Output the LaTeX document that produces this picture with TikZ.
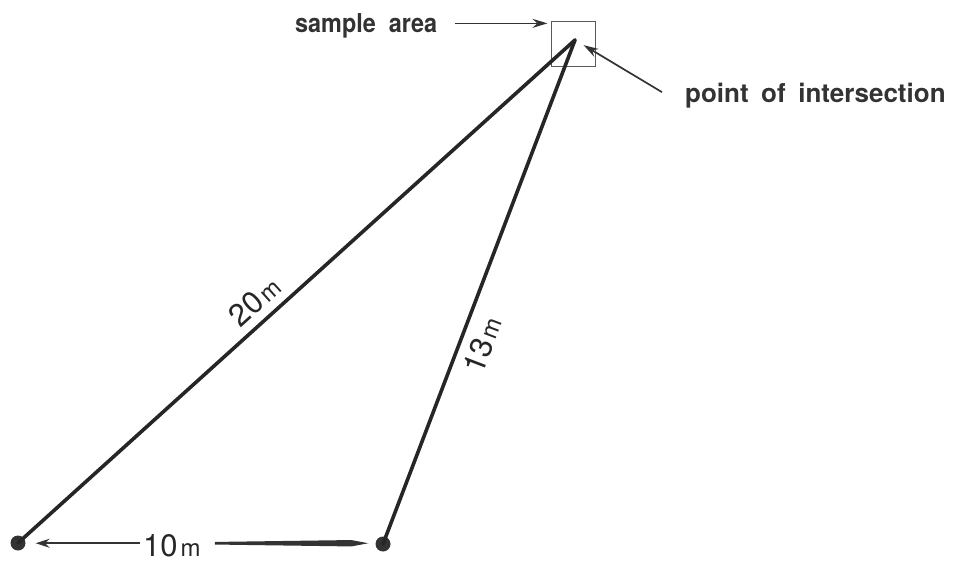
\documentclass[tikz,border=0pt]{standalone}
\usepackage{fontspec}
\setmainfont{TeX Gyre Heros}
\newfontfamily\lblfont[FakeStretch=0.9]{TeX Gyre Heros}
\usetikzlibrary{arrows.meta,calc}
\newcommand{\distlbl}[1]{{\fontsize{31}{31}\selectfont #1}\hspace{3pt}{\fontsize{24}{24}\selectfont m}}
\begin{document}
\begin{tikzpicture}[x=1pt,y=-1pt,
  leg/.style={line width=3.6pt, black!85, line cap=round},
  station/.style={circle, fill=black!80, inner sep=0pt, minimum size=15pt},
  lbl/.style={font=\fontsize{26}{26}\selectfont\bfseries, text=black!80, inner sep=0pt},
  dlbl/.style={text=black!85, inner sep=0pt},
  ptr/.style={line width=1.7pt, black!80, -{Stealth[length=15pt,width=9pt]}},
]
\useasboundingbox (0,0) rectangle (953,561);
\node[station] (s1) at (18,543) {};
\node[station] (s2) at (383,544) {};
\coordinate (apex) at (575,40);
\node[draw=black!65, line width=1pt, minimum width=44pt, minimum height=45pt, inner sep=0pt] (box) at (573,44.5) {};
\draw[leg] (s1.center) -- node[dlbl, pos=0.45, sloped, above=8pt] {\distlbl{20}} (apex);
\draw[leg] (s2.center) -- node[dlbl, pos=0.41, sloped, below=9pt] {\distlbl{13}} (apex);
% 10 m
\node[dlbl, anchor=base west] (ten) at (143,556) {\distlbl{10}};
\coordinate (tl) at ($(ten.west)+(-3,-2)$);
\draw[line width=1.5pt, black!80, -{Stealth[length=14pt,width=9pt]}, shorten >=10pt] (tl) -- (s1.east |- tl);
\coordinate (r0) at ($(ten.east)+(14,-2)$);
\fill[black!80] ($(r0)+(0,-1.3)$) -- ($(s2.west |- r0)+(-24,-3.2)$) -- ($(s2.west |- r0)+(-7,0)$) -- ($(s2.west |- r0)+(-24,3.2)$) -- ($(r0)+(0,1.3)$) -- cycle;
% labels
\node[lbl, font=\lblfont\fontsize{26}{26}\selectfont\bfseries, anchor=base west] (sa) at (295,33) {sample\hspace{13pt}area};
\coordinate (sa0) at ($(sa.east)+(18,-3)$);
\draw[ptr] (sa0) -- ($(box.west |- sa0)+(-3,0)$);
\node[lbl, anchor=base west] (pi) at (685,103) {point\hspace{12.5pt}of\hspace{12.5pt}intersection};
\coordinate (pi0) at ($(pi.west)+(-23,-4)$);
\draw[ptr, shorten >=10pt] (pi0) -- (apex);
\end{tikzpicture}
\end{document}
